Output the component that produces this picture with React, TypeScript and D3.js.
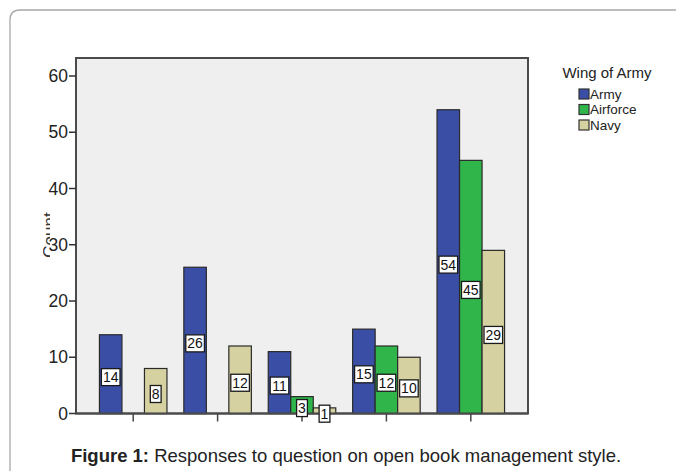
import React from "react";
import * as d3 from "d3";

const categories = ["1", "2", "3", "4", "5"];
const seriesNames = ["Army", "Airforce", "Navy"];
const army = [14, 26, 11, 15, 54];
const airforce = [0, 0, 3, 12, 45];
const navy = [8, 12, 1, 10, 29];
const yTicks = [0, 10, 20, 30, 40, 50, 60];
const yMax = 63.2;
const colors = ["#3a4ea6", "#2fb54a", "#d6d1a0"];
const legendTitle = "Wing of Army";
const yLabel = "Count";
const captionBold = "Figure 1:";
const captionText = " Responses to question on open book management style.";

const W = 676;
const H = 471;
const plot = { left: 76, right: 528, top: 58, bottom: 413.5 };
const FONT = "'Liberation Sans', Arial, sans-serif";

export default function App() {
  const series = [army, airforce, navy];
  const x = d3
    .scaleBand<string>()
    .domain(categories)
    .range([91, 513])
    .paddingInner(0.2)
    .paddingOuter(0.1);
  const xs = d3
    .scaleBand<string>()
    .domain(seriesNames)
    .range([0, x.bandwidth()]);
  const y = d3.scaleLinear().domain([0, yMax]).range([plot.bottom, plot.top]);

  const bars: React.ReactNode[] = [];
  const labels: React.ReactNode[] = [];
  categories.forEach((c, ci) => {
    seriesNames.forEach((s, si) => {
      const v = series[si][ci];
      if (!v) return;
      const bx = (x(c) ?? 0) + (xs(s) ?? 0);
      const bw = xs.bandwidth();
      bars.push(
        <rect
          key={`b-${ci}-${si}`}
          x={bx}
          y={y(v)}
          width={bw}
          height={y(0) - y(v)}
          fill={colors[si]}
          stroke="#2a2a2a"
          strokeWidth={1.2}
        />
      );
      const txt = String(v);
      const tw = txt.length * 7.8 + 3;
      const cy = y(v / 2) + 3;
      const cx = bx + bw / 2;
      labels.push(
        <g key={`l-${ci}-${si}`}>
          <rect
            x={cx - tw / 2}
            y={cy - 8.5}
            width={tw}
            height={17}
            fill="#ffffff"
            stroke="#1a1a1a"
            strokeWidth={1.3}
          />
          <text
            x={cx}
            y={cy + 5}
            textAnchor="middle"
            fontSize={14}
            fontFamily={FONT}
            fill="#111"
          >
            {txt}
          </text>
        </g>
      );
    });
  });

  return (
    <svg
      width={W}
      height={H}
      style={{ position: "absolute", left: 0, top: 0, background: "#fff" }}
    >
      <defs>
        <clipPath id="ylabClip">
          <rect x={43} y={205} width={7} height={60} />
        </clipPath>
      </defs>
      <path
        d={`M10,${H + 2} L10,20 Q10,10 20,10 L${W + 2},10`}
        fill="none"
        stroke="#a8a8a8"
        strokeWidth={1.3}
      />
      <rect
        x={plot.left}
        y={plot.top}
        width={plot.right - plot.left}
        height={plot.bottom - plot.top}
        fill="#efefef"
        stroke="#4a4a4a"
        strokeWidth={2}
      />
      {yTicks.map((t) => (
        <g key={`yt-${t}`}>
          <line
            x1={plot.left - 7}
            x2={plot.left}
            y1={y(t)}
            y2={y(t)}
            stroke="#333"
            strokeWidth={1.5}
          />
          <text
            x={plot.left - 8}
            y={y(t) + 6}
            textAnchor="end"
            fontSize={17.5}
            fontFamily={FONT}
            fill="#222"
          >
            {t}
          </text>
        </g>
      ))}
      {categories.map((c) => (
        <line
          key={`xt-${c}`}
          x1={(x(c) ?? 0) + x.bandwidth() / 2}
          x2={(x(c) ?? 0) + x.bandwidth() / 2}
          y1={plot.bottom}
          y2={plot.bottom + 8}
          stroke="#444"
          strokeWidth={1.5}
        />
      ))}
      <g clipPath="url(#ylabClip)">
        <text
          transform={`translate(55,235) rotate(-90)`}
          textAnchor="middle"
          fontSize={17}
          fontFamily={FONT}
          fill="#333"
        >
          {yLabel}
        </text>
      </g>
      {bars}
      <line
        x1={plot.left}
        x2={plot.right}
        y1={plot.bottom}
        y2={plot.bottom}
        stroke="#4a4a4a"
        strokeWidth={2}
      />
      {labels}
      <text
        x={607}
        y={78}
        textAnchor="middle"
        fontSize={15}
        fontFamily={FONT}
        fill="#222"
      >
        {legendTitle}
      </text>
      {seriesNames.map((s, i) => (
        <g key={`lg-${s}`}>
          <rect
            x={579}
            y={89 + i * 15.5}
            width={10}
            height={10}
            fill={colors[i]}
            stroke="#333"
            strokeWidth={1.2}
          />
          <text
            x={590}
            y={98.5 + i * 15.5}
            fontSize={13.5}
            fontFamily={FONT}
            fill="#222"
          >
            {s}
          </text>
        </g>
      ))}
      <text
        x={346}
        y={462}
        textAnchor="middle"
        fontSize={18.5}
        fontFamily={FONT}
        fill="#222"
      >
        <tspan fontWeight="bold">{captionBold}</tspan>
        <tspan>{captionText}</tspan>
      </text>
    </svg>
  );
}
